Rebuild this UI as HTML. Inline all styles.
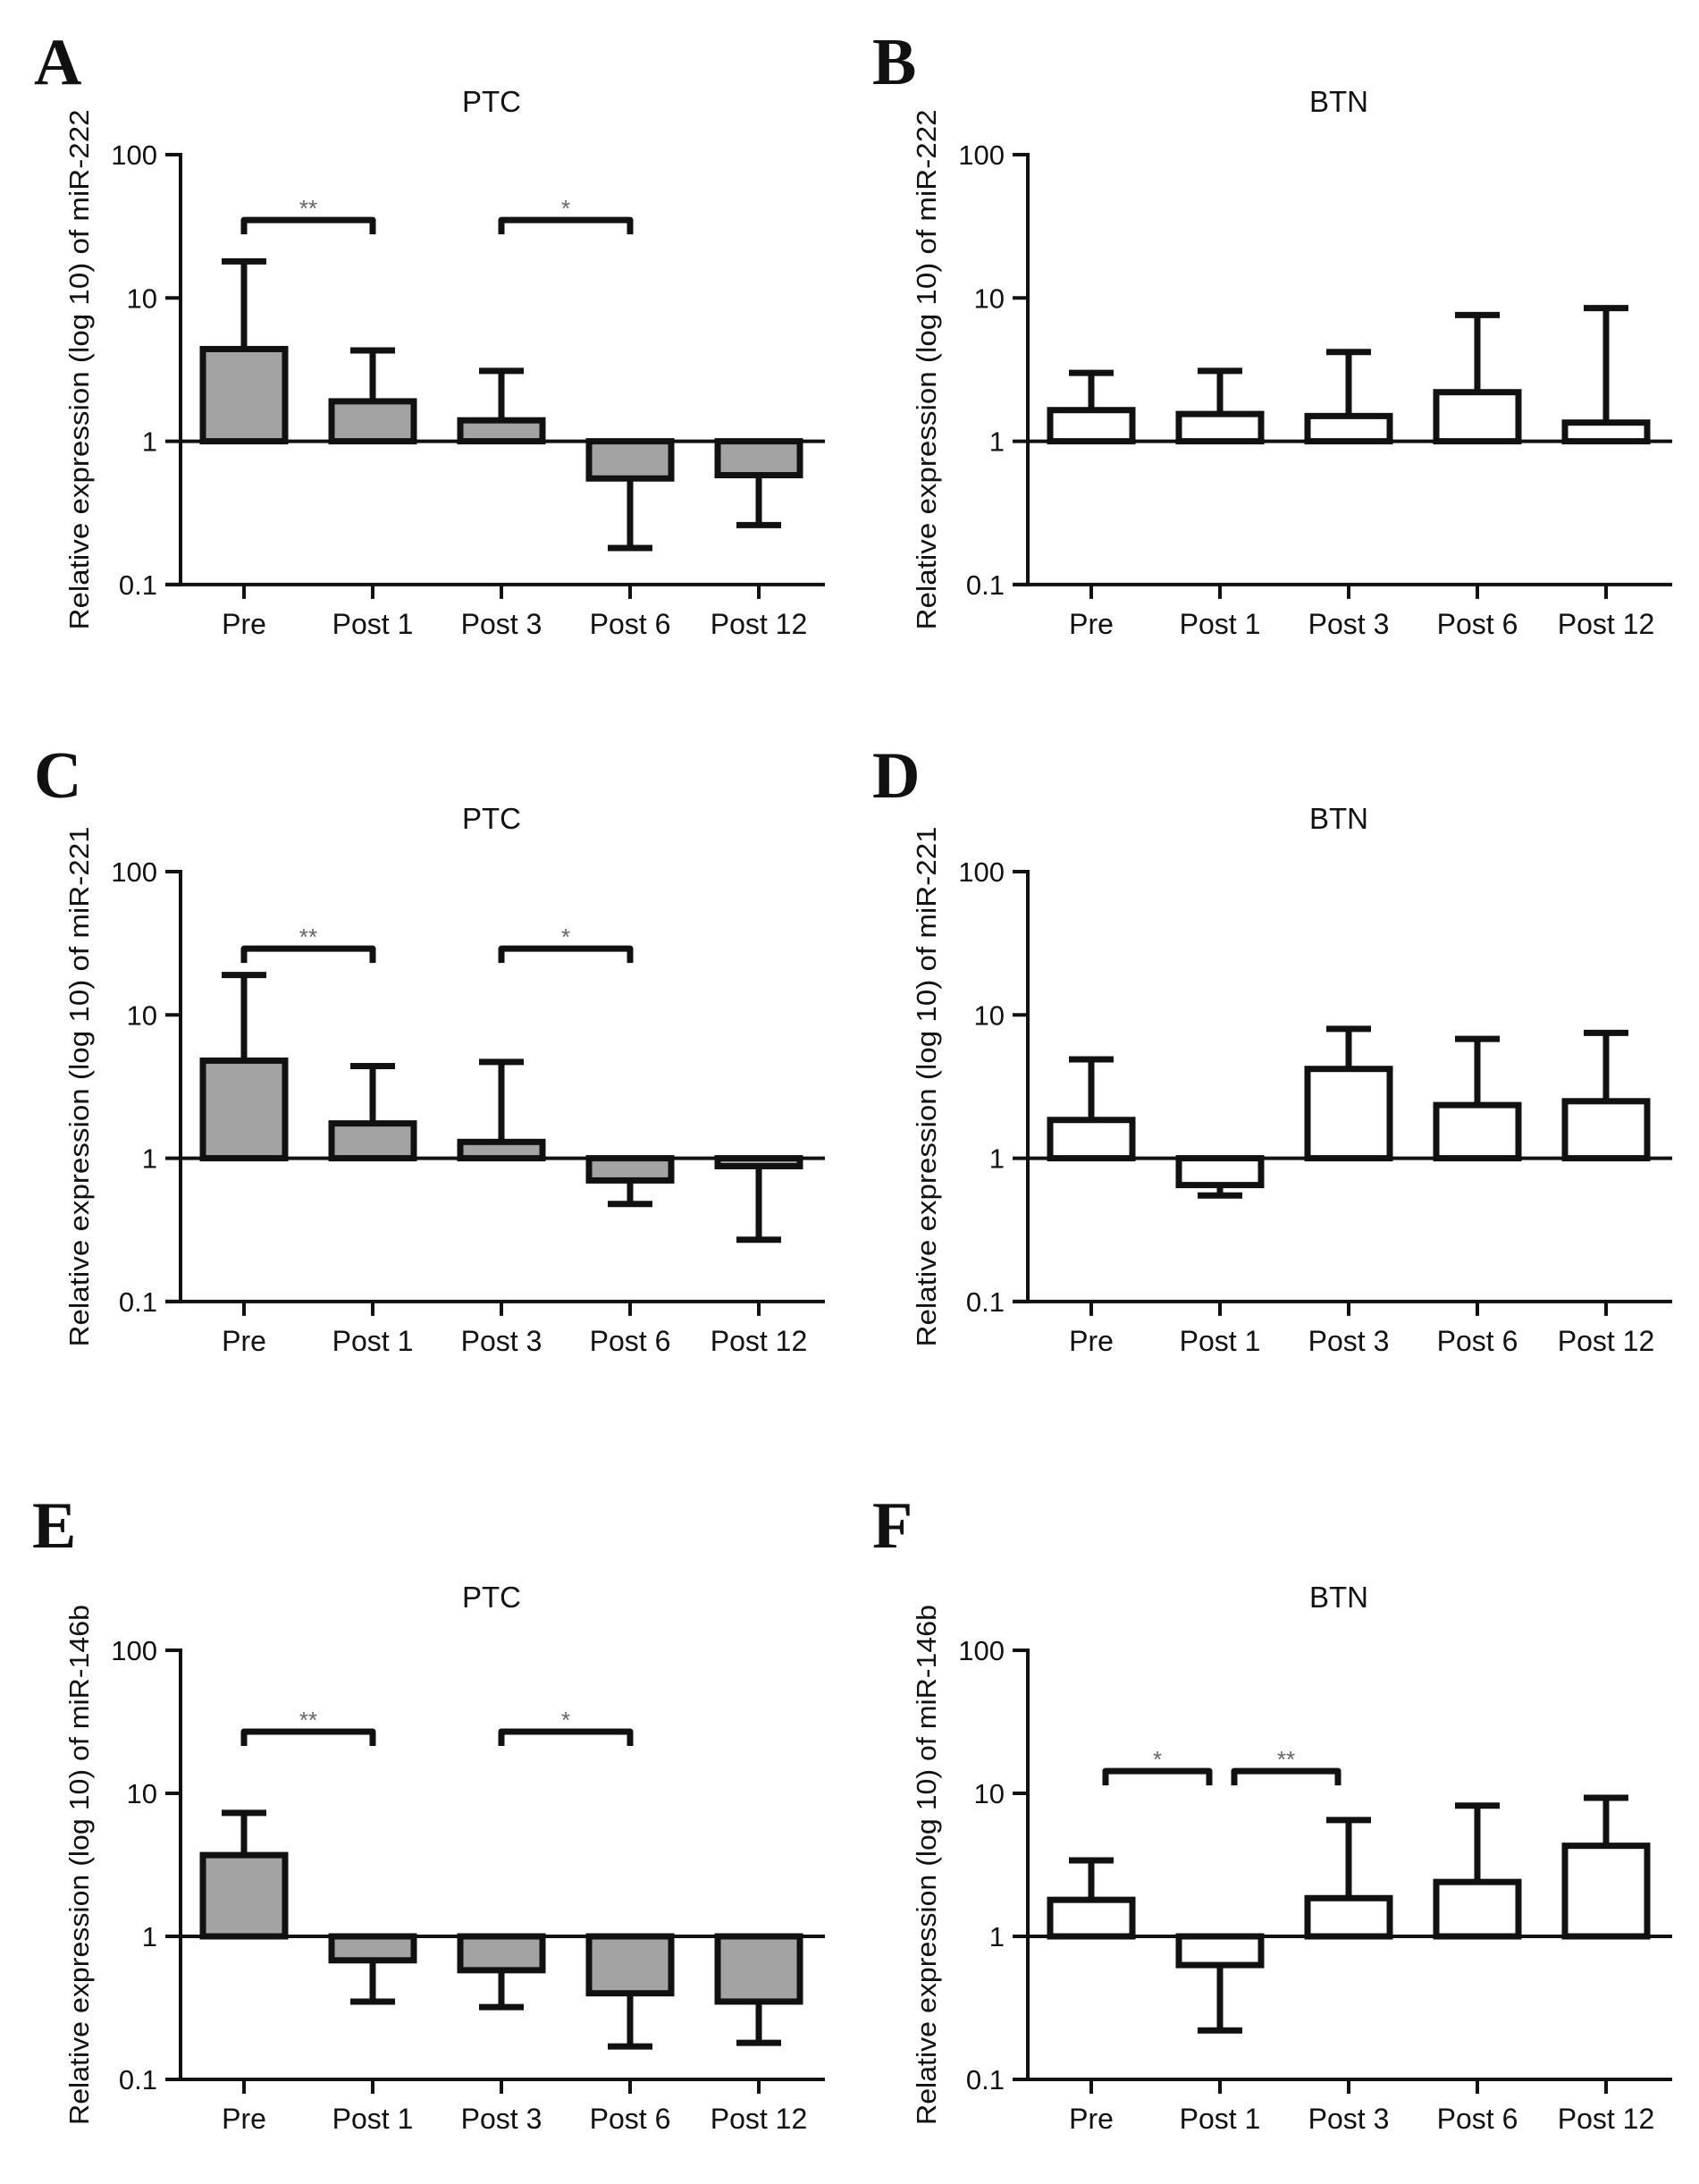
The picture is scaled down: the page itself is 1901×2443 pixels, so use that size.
<!DOCTYPE html>
<html><head><meta charset="utf-8"><style>html,body{margin:0;padding:0;background:#fff}svg{display:block}</style></head>
<body>
<svg id="fig" width="1901" height="2443" viewBox="0 0 1901 2443" xmlns="http://www.w3.org/2000/svg" font-family="Liberation Sans, Arial, sans-serif"></svg>
<script>
const categories = ["Pre","Post 1","Post 3","Post 6","Post 12"];
const yTicks = [100,10,1,0.1];
const yTickLabels = ["100","10","1","0.1"];
const meanA = [4.4,1.9,1.4,0.55,0.58];
const errA  = [18,4.3,3.1,0.18,0.26];
const meanB = [1.65,1.55,1.5,2.2,1.35];
const errB  = [3.0,3.1,4.2,7.6,8.5];
const meanC = [4.8,1.75,1.3,0.7,0.88];
const errC  = [19,4.4,4.7,0.48,0.27];
const meanD = [1.85,0.65,4.2,2.35,2.5];
const errD  = [4.9,0.55,8.0,6.8,7.5];
const meanE = [3.7,0.68,0.58,0.4,0.35];
const errE  = [7.3,0.35,0.32,0.17,0.18];
const meanF = [1.8,0.63,1.85,2.4,4.3];
const errF  = [3.4,0.22,6.5,8.2,9.3];
// significance brackets: [fromIndex, toIndex, level value, label]
const sigA = [[0,1,35,"**"],[2,3,35,"*"]];
const sigC = [[0,1,29,"**"],[2,3,29,"*"]];
const sigE = [[0,1,27,"**"],[2,3,27,"*"]];
const sigF = [[0,1,14.3,"*"],[1,2,14.3,"**"]];

const NS="http://www.w3.org/2000/svg";
const svg=document.getElementById('fig');
function mk(tag,attrs,parent,text){const e=document.createElementNS(NS,tag);for(const k in attrs)e.setAttribute(k,attrs[k]);if(text!==undefined)e.textContent=text;(parent||svg).appendChild(e);return e;}

function panel(cfg){
  const g=mk('g',{});
  
  
  const ox=cfg.ox, top=cfg.top, dec=cfg.dec;
  const ax=ox+202, axEnd=ox+923;
  const y=v=>top+(2-Math.log10(v))*dec;
  const x=i=>ox+273+144*i;
  const bottom=y(0.1);
  const L=mk('text',{x:ox+cfg.lx,y:cfg.ly,'font-family':'Liberation Serif, serif','font-weight':'bold','font-size':74,fill:'#111'},g,cfg.letter);
  
  
  const T=mk('text',{x:ox+550,y:top-48,'text-anchor':'middle','font-size':33,fill:'#111'},g,cfg.title);
  
  
  const yl=mk('text',{transform:`translate(${ox+99},${(top+bottom)/2}) rotate(-90)`,'text-anchor':'middle','font-size':31,fill:'#111',textLength:582,lengthAdjust:'spacingAndGlyphs'},g,cfg.ylabel);
  
  
  const ya=mk('line',{x1:ax,y1:top-2,x2:ax,y2:bottom+2,stroke:'#111','stroke-width':4},g);
  
  
  yTicks.forEach((t,i)=>{
    const ty=y(t);
    mk('line',{x1:ax-17,y1:ty,x2:ax,y2:ty,stroke:'#111','stroke-width':4},g);
    const tl=mk('text',{x:ax-26,y:ty+11,'text-anchor':'end','font-size':31,fill:'#111'},g,yTickLabels[i]);
    
    
  });
  const xa=mk('line',{x1:ax-17,y1:bottom,x2:axEnd,y2:bottom,stroke:'#111','stroke-width':4},g);
  
  
  categories.forEach((c,i)=>{
    mk('line',{x1:x(i),y1:bottom,x2:x(i),y2:bottom+16,stroke:'#111','stroke-width':4},g);
    const cl=mk('text',{x:x(i),y:bottom+55,'text-anchor':'middle','font-size':32,fill:'#111'},g,c);
    
    
  });
  const one=y(1);
  cfg.mean.forEach((m,i)=>{
    const ym=y(m), ye=y(cfg.err[i]);
    const eb=mk('line',{x1:x(i),y1:ym,x2:x(i),y2:ye,stroke:'#111','stroke-width':7},g);
    
    
    const cap=mk('line',{x1:x(i)-25,y1:ye,x2:x(i)+25,y2:ye,stroke:'#111','stroke-width':7},g);
    
    
    const r=mk('rect',{x:x(i)-46,y:Math.min(ym,one),width:92,height:Math.abs(one-ym),fill:cfg.fill,stroke:'#111','stroke-width':7},g);
    
    
  });
  const bl=mk('line',{x1:ax,y1:one,x2:axEnd,y2:one,stroke:'#111','stroke-width':4},g);
  
  
  cfg.sig.forEach(s=>{
    const off=cfg.sigOff||0;
    const x1=x(s[0])+off-(cfg.sigShrink||0), x2=x(s[1])+off+(cfg.sigShrink||0);
    const by=y(s[2]);
    const p=mk('path',{d:`M${x1},${by+16} L${x1},${by} L${x2},${by} L${x2},${by+16}`,fill:'none',stroke:'#111','stroke-width':7,'stroke-linejoin':'round'},g);
    
    
    const st=mk('text',{x:(x1+x2)/2,y:by-4,'text-anchor':'middle','font-size':26,fill:'#666'},g,s[3]);
    
    
  });
}
const gray='#a3a3a3', white='#fff';
panel({letter:'A',ox:0,top:173,dec:160.3,lx:38,ly:94,title:'PTC',ylabel:'Relative expression (log 10) of miR-222',mean:meanA,err:errA,fill:gray,sig:sigA});
panel({letter:'B',ox:948,top:173,dec:160.3,lx:28,ly:94,title:'BTN',ylabel:'Relative expression (log 10) of miR-222',mean:meanB,err:errB,fill:white,sig:[]});
panel({letter:'C',ox:0,top:975,dec:160.3,lx:38,ly:892,title:'PTC',ylabel:'Relative expression (log 10) of miR-221',mean:meanC,err:errC,fill:gray,sig:sigC});
panel({letter:'D',ox:948,top:975,dec:160.3,lx:28,ly:892,title:'BTN',ylabel:'Relative expression (log 10) of miR-221',mean:meanD,err:errD,fill:white,sig:[]});
panel({letter:'E',ox:0,top:1846,dec:160,lx:36,ly:1731,title:'PTC',ylabel:'Relative expression (log 10) of miR-146b',mean:meanE,err:errE,fill:gray,sig:sigE});
panel({letter:'F',ox:948,top:1846,dec:160,lx:28,ly:1731,title:'BTN',ylabel:'Relative expression (log 10) of miR-146b',mean:meanF,err:errF,fill:white,sig:sigF,sigOff:2,sigShrink:-14});
</script>
</body></html>
